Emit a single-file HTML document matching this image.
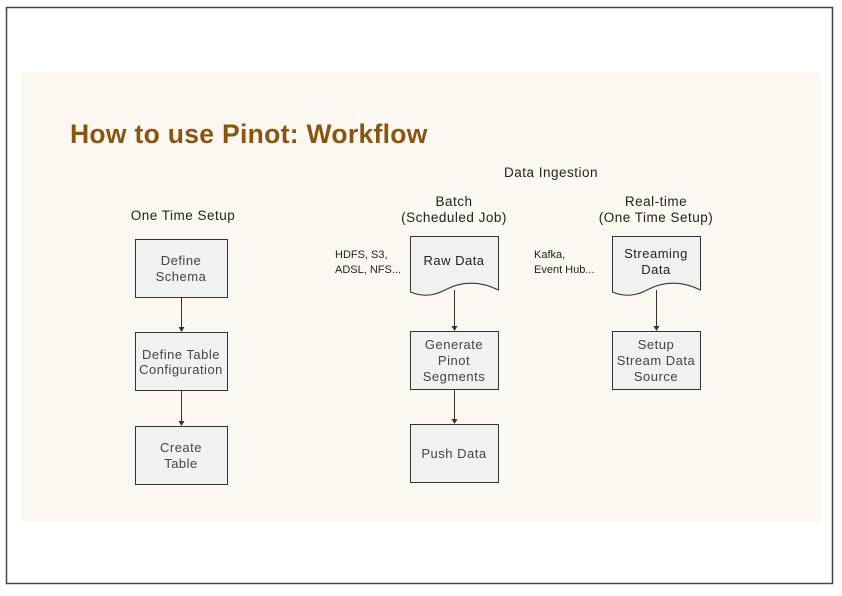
<!DOCTYPE html>
<html><head><style>
body{margin:0;background:#fff;}
svg{display:block;font-family:"Liberation Sans",sans-serif;}
</style></head><body>
<svg width="842" height="596" viewBox="0 0 842 596">
<rect x="0" y="0" width="842" height="596" fill="#fff"/>
<rect x="6.5" y="7.5" width="826" height="576" fill="none" stroke="#444" stroke-width="1.5"/>
<rect x="21" y="73" width="800" height="449" fill="#fbf8f2"/>
<text x="70" y="143" font-size="26.5" font-weight="bold" fill="#8a5510" letter-spacing="0.3">How to use Pinot: Workflow</text>
<g font-size="13.5" fill="#222" text-anchor="middle" letter-spacing="0.5">
<text x="551" y="177">Data Ingestion</text>
<text x="454" y="206">Batch</text>
<text x="454" y="222">(Scheduled Job)</text>
<text x="656" y="206">Real-time</text>
<text x="656" y="222">(One Time Setup)</text>
<text x="183" y="220">One Time Setup</text>
</g>
<g font-size="11" fill="#222">
<text x="335" y="258">HDFS, S3,</text>
<text x="335" y="273">ADSL, NFS...</text>
<text x="534" y="258">Kafka,</text>
<text x="534" y="273">Event Hub...</text>
</g>
<g fill="#f1f1f2" stroke="#333" stroke-width="1">
<rect x="135.5" y="239.5" width="92" height="58"/>
<rect x="135.5" y="332.5" width="92" height="58"/>
<rect x="135.5" y="426.5" width="92" height="58"/>
<rect x="410.5" y="331.5" width="88" height="58"/>
<rect x="410.5" y="424.5" width="88" height="58"/>
<rect x="612.5" y="331.5" width="88" height="58"/>
<path d="M410.5 236.5 H498.5 V290 C478 280 460 282 445 290 C432 297 420 296 410.5 292 Z"/>
<path d="M612.5 236.5 H700.5 V290 C680 280 662 282 647 290 C634 297 622 296 612.5 292 Z"/>
</g>
<g stroke="#333" stroke-width="1">
<line x1="181.5" y1="297" x2="181.5" y2="328"/>
<line x1="181.5" y1="390" x2="181.5" y2="422"/>
<line x1="454.5" y1="290" x2="454.5" y2="327"/>
<line x1="454.5" y1="389" x2="454.5" y2="420"/>
<line x1="656.5" y1="290" x2="656.5" y2="327"/>
</g>
<g fill="#333">
<path d="M178.5 327 L184.5 327 L181.5 332 Z"/>
<path d="M178.5 421 L184.5 421 L181.5 426 Z"/>
<path d="M451.5 326 L457.5 326 L454.5 331 Z"/>
<path d="M451.5 419 L457.5 419 L454.5 424 Z"/>
<path d="M653.5 326 L659.5 326 L656.5 331 Z"/>
</g>
<g font-size="13" fill="#444" text-anchor="middle" letter-spacing="0.5">
<text x="181" y="265">Define</text>
<text x="181" y="281">Schema</text>
<text x="181" y="359">Define Table</text>
<text x="181" y="374">Configuration</text>
<text x="181" y="452">Create</text>
<text x="181" y="468">Table</text>
<text x="454" y="265" fill="#222">Raw Data</text>
<text x="454" y="349">Generate</text>
<text x="454" y="365">Pinot</text>
<text x="454" y="381">Segments</text>
<text x="454" y="458">Push Data</text>
<text x="656" y="258" fill="#222">Streaming</text>
<text x="656" y="274" fill="#222">Data</text>
<text x="656" y="349">Setup</text>
<text x="656" y="365">Stream Data</text>
<text x="656" y="381">Source</text>
</g>
</svg>
</body></html>
